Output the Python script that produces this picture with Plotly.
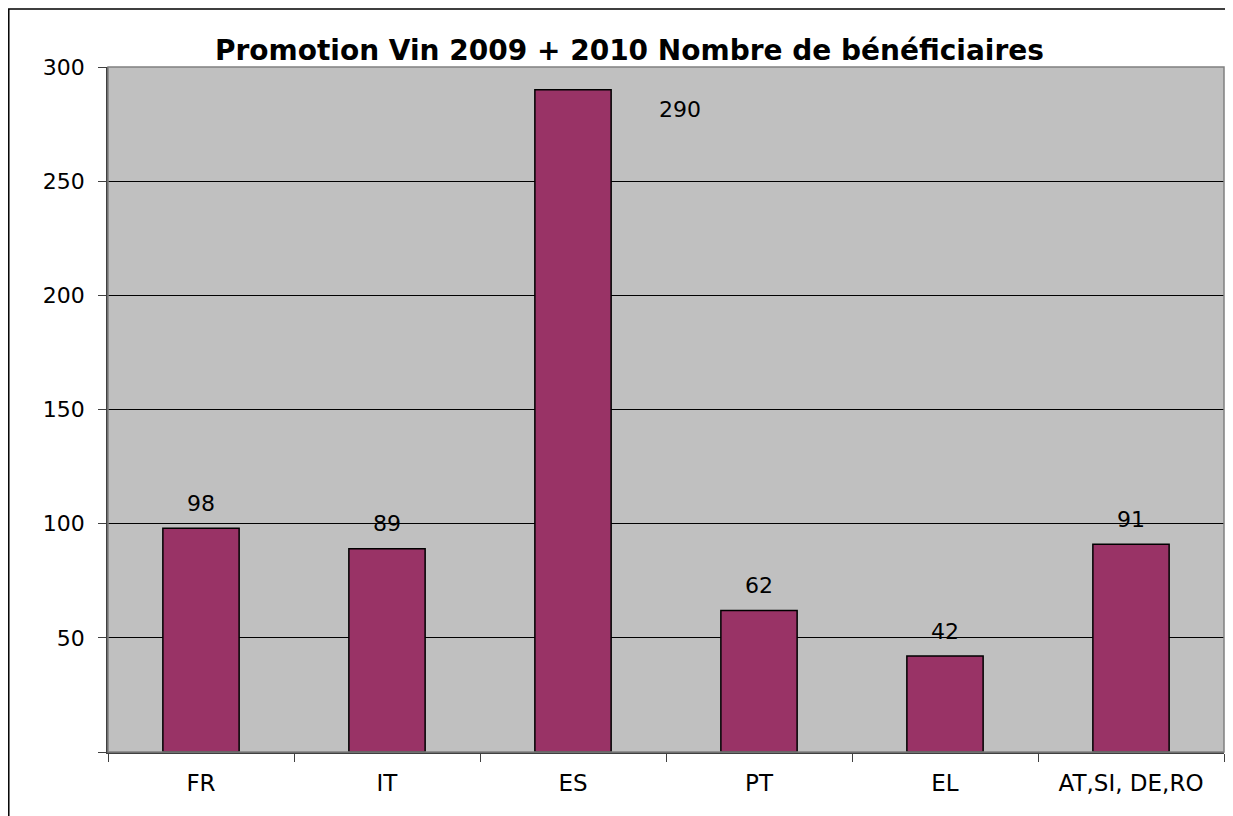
import plotly.graph_objects as go

categories = ["FR", "IT", "ES", "PT", "EL", "AT,SI, DE,RO"]
values = [98, 89, 290, 62, 42, 91]
y_tickvals = [0, 50, 100, 150, 200, 250, 300]
y_ticktext = ["", "50", "100", "150", "200", "250", "300"]
title_text = "Promotion Vin 2009 + 2010 Nombre de bénéficiaires"

FONT = "DejaVu Sans, Verdana, sans-serif"

fig = go.Figure()
fig.add_trace(go.Bar(
    x=categories, y=values,
    marker=dict(color="#993366", line=dict(color="black", width=1.5)),
    width=0.41,
))

annotations = []
for c, v in zip(categories, values):
    if v > 270:
        annotations.append(dict(x=c, y=v, text=str(v), showarrow=False, xref="x", yref="y",
                                xshift=107, yshift=-20, font=dict(size=22, color="black", family=FONT)))
    else:
        annotations.append(dict(x=c, y=v, text=str(v), showarrow=False, xref="x", yref="y",
                                yshift=25, font=dict(size=22, color="black", family=FONT)))

fig.update_layout(
    width=1233, height=816,
    margin=dict(l=100, r=17, t=59, b=72),
    paper_bgcolor="white",
    plot_bgcolor="#C0C0C0",
    showlegend=False,
    title=dict(text="<b>" + title_text + "</b>", x=0.504, xanchor="center", y=0.9485, yanchor="middle",
               font=dict(size=28, color="black", family=FONT)),
    annotations=annotations,
    font=dict(family=FONT, size=22, color="black"),
    shapes=[
        dict(type="rect", xref="paper", yref="paper", x0=0, x1=1, y0=0, y1=1,
             line=dict(color="#808080", width=1.5), layer="above"),
        dict(type="rect", xref="paper", yref="paper", x0=-0.0889, x1=1.03, y0=-0.15, y1=1.0847,
             line=dict(color="black", width=1.5), layer="above"),
    ],
)
fig.update_xaxes(
    showline=True, linecolor="#404040", linewidth=1.5,
    ticks="outside", ticklen=8, tickcolor="#404040", tickwidth=1,
    tickson="boundaries", showgrid=False,
    tickfont=dict(size=23, family=FONT, color="black"),
    ticklabelstandoff=10,
)
fig.update_yaxes(
    range=[0, 300], tickvals=y_tickvals, ticktext=y_ticktext,
    showline=True, linecolor="#404040", linewidth=1.5,
    ticks="outside", ticklen=8, tickcolor="#404040", tickwidth=1,
    showgrid=True, gridcolor="#000000", gridwidth=1, zeroline=False,
    tickfont=dict(size=22, family=FONT, color="black"),
    ticklabelstandoff=9,
)

fig.write_html("out.html")
